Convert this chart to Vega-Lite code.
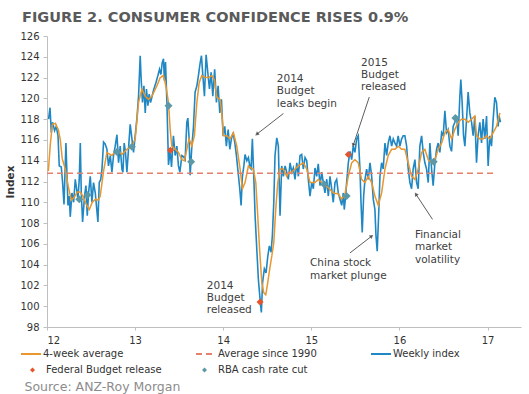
{
"$schema": "https://vega.github.io/schema/vega-lite/v6.json",
"width": 474, "height": 291,
"autosize": {"type": "none"},
"padding": {"left": 47, "top": 36, "right": 8, "bottom": 67},
"background": "white",
"title": {"text": "FIGURE 2. CONSUMER CONFIDENCE RISES 0.9%", "anchor": "start", "frame": "group", "dx": -25, "dy": 19, "offset": 14, "baseline": "alphabetic", "font": "DejaVu Sans", "fontSize": 14.5, "fontWeight": "bold", "color": "#5A5A5A"},
"config": {
 "view": {"stroke": null},
 "axis": {"domainColor": "#BFBFBF", "tickColor": "#BFBFBF", "labelFont": "DejaVu Sans", "labelFontSize": 10, "labelColor": "#333333", "grid": false, "titleFont": "DejaVu Sans"},
 "legend": {"labelFont": "DejaVu Sans", "labelFontSize": 10, "labelColor": "#333333"}
},
"datasets": {
"lines": [
{"series":"Weekly index","year":12.018,"index":118.0},{"series":"Weekly index","year":12.034,"index":119.1},{"series":"Weekly index","year":12.049,"index":116.7},{"series":"Weekly index","year":12.063,"index":117.7},{"series":"Weekly index","year":12.086,"index":116.9},{"series":"Weekly index","year":12.105,"index":117.3},{"series":"Weekly index","year":12.125,"index":116.4},{"series":"Weekly index","year":12.139,"index":113.5},{"series":"Weekly index","year":12.162,"index":113.4},{"series":"Weekly index","year":12.177,"index":111.9},{"series":"Weekly index","year":12.193,"index":109.8},{"series":"Weekly index","year":12.215,"index":115.7},{"series":"Weekly index","year":12.227,"index":112.5},{"series":"Weekly index","year":12.238,"index":109.7},{"series":"Weekly index","year":12.253,"index":110.6},{"series":"Weekly index","year":12.264,"index":108.6},{"series":"Weekly index","year":12.283,"index":110.9},{"series":"Weekly index","year":12.302,"index":110.0},{"series":"Weekly index","year":12.321,"index":112.2},{"series":"Weekly index","year":12.336,"index":111.3},{"series":"Weekly index","year":12.351,"index":110.3},{"series":"Weekly index","year":12.366,"index":112.2},{"series":"Weekly index","year":12.378,"index":115.7},{"series":"Weekly index","year":12.389,"index":110.9},{"series":"Weekly index","year":12.404,"index":108.1},{"series":"Weekly index","year":12.426,"index":110.6},{"series":"Weekly index","year":12.442,"index":111.6},{"series":"Weekly index","year":12.457,"index":108.7},{"series":"Weekly index","year":12.472,"index":110.9},{"series":"Weekly index","year":12.491,"index":112.5},{"series":"Weekly index","year":12.510,"index":110.0},{"series":"Weekly index","year":12.528,"index":111.9},{"series":"Weekly index","year":12.548,"index":110.9},{"series":"Weekly index","year":12.578,"index":108.1},{"series":"Weekly index","year":12.593,"index":111.9},{"series":"Weekly index","year":12.610,"index":112.2},{"series":"Weekly index","year":12.624,"index":113.2},{"series":"Weekly index","year":12.642,"index":115.8},{"series":"Weekly index","year":12.661,"index":115.6},{"series":"Weekly index","year":12.680,"index":115.1},{"series":"Weekly index","year":12.698,"index":113.5},{"series":"Weekly index","year":12.718,"index":114.5},{"series":"Weekly index","year":12.737,"index":112.9},{"series":"Weekly index","year":12.755,"index":114.5},{"series":"Weekly index","year":12.774,"index":115.4},{"series":"Weekly index","year":12.794,"index":116.5},{"series":"Weekly index","year":12.812,"index":113.8},{"series":"Weekly index","year":12.831,"index":115.4},{"series":"Weekly index","year":12.850,"index":113.2},{"series":"Weekly index","year":12.862,"index":112.9},{"series":"Weekly index","year":12.876,"index":115.7},{"series":"Weekly index","year":12.891,"index":114.8},{"series":"Weekly index","year":12.907,"index":112.9},{"series":"Weekly index","year":12.925,"index":115.1},{"series":"Weekly index","year":12.944,"index":117.5},{"series":"Weekly index","year":12.964,"index":116.1},{"series":"Weekly index","year":12.982,"index":114.8},{"series":"Weekly index","year":13.001,"index":116.4},{"series":"Weekly index","year":13.020,"index":118.0},{"series":"Weekly index","year":13.039,"index":120.2},{"series":"Weekly index","year":13.058,"index":124.1},{"series":"Weekly index","year":13.069,"index":121.8},{"series":"Weekly index","year":13.084,"index":119.6},{"series":"Weekly index","year":13.100,"index":121.2},{"series":"Weekly index","year":13.115,"index":118.6},{"series":"Weekly index","year":13.129,"index":120.9},{"series":"Weekly index","year":13.145,"index":119.3},{"series":"Weekly index","year":13.160,"index":120.4},{"series":"Weekly index","year":13.175,"index":119.6},{"series":"Weekly index","year":13.190,"index":120.1},{"series":"Weekly index","year":13.213,"index":120.9},{"series":"Weekly index","year":13.236,"index":121.5},{"series":"Weekly index","year":13.259,"index":122.2},{"series":"Weekly index","year":13.277,"index":122.8},{"series":"Weekly index","year":13.293,"index":122.3},{"series":"Weekly index","year":13.307,"index":123.4},{"series":"Weekly index","year":13.322,"index":123.8},{"series":"Weekly index","year":13.333,"index":121.7},{"series":"Weekly index","year":13.345,"index":123.5},{"series":"Weekly index","year":13.361,"index":119.6},{"series":"Weekly index","year":13.379,"index":113.6},{"series":"Weekly index","year":13.398,"index":115.0},{"series":"Weekly index","year":13.413,"index":113.4},{"series":"Weekly index","year":13.435,"index":116.4},{"series":"Weekly index","year":13.455,"index":114.5},{"series":"Weekly index","year":13.474,"index":115.4},{"series":"Weekly index","year":13.492,"index":113.5},{"series":"Weekly index","year":13.508,"index":112.9},{"series":"Weekly index","year":13.531,"index":114.5},{"series":"Weekly index","year":13.549,"index":114.4},{"series":"Weekly index","year":13.568,"index":114.1},{"series":"Weekly index","year":13.587,"index":117.7},{"series":"Weekly index","year":13.599,"index":118.1},{"series":"Weekly index","year":13.613,"index":116.1},{"series":"Weekly index","year":13.625,"index":112.6},{"series":"Weekly index","year":13.644,"index":115.4},{"series":"Weekly index","year":13.662,"index":117.2},{"series":"Weekly index","year":13.681,"index":120.6},{"series":"Weekly index","year":13.701,"index":121.2},{"series":"Weekly index","year":13.719,"index":122.2},{"series":"Weekly index","year":13.738,"index":123.4},{"series":"Weekly index","year":13.753,"index":124.1},{"series":"Weekly index","year":13.769,"index":122.2},{"series":"Weekly index","year":13.787,"index":120.2},{"series":"Weekly index","year":13.806,"index":124.2},{"series":"Weekly index","year":13.825,"index":122.5},{"series":"Weekly index","year":13.844,"index":120.9},{"series":"Weekly index","year":13.863,"index":122.5},{"series":"Weekly index","year":13.882,"index":120.2},{"series":"Weekly index","year":13.903,"index":122.8},{"series":"Weekly index","year":13.923,"index":119.6},{"series":"Weekly index","year":13.942,"index":121.2},{"series":"Weekly index","year":13.961,"index":118.6},{"series":"Weekly index","year":13.980,"index":119.9},{"series":"Weekly index","year":13.999,"index":116.4},{"series":"Weekly index","year":14.018,"index":117.3},{"series":"Weekly index","year":14.036,"index":115.4},{"series":"Weekly index","year":14.056,"index":117.0},{"series":"Weekly index","year":14.075,"index":115.1},{"series":"Weekly index","year":14.093,"index":116.1},{"series":"Weekly index","year":14.112,"index":116.7},{"series":"Weekly index","year":14.132,"index":115.7},{"series":"Weekly index","year":14.150,"index":114.5},{"series":"Weekly index","year":14.169,"index":112.9},{"series":"Weekly index","year":14.188,"index":111.3},{"series":"Weekly index","year":14.203,"index":109.7},{"series":"Weekly index","year":14.218,"index":112.5},{"series":"Weekly index","year":14.234,"index":113.5},{"series":"Weekly index","year":14.248,"index":114.6},{"series":"Weekly index","year":14.268,"index":114.0},{"series":"Weekly index","year":14.286,"index":114.3},{"series":"Weekly index","year":14.305,"index":113.3},{"series":"Weekly index","year":14.316,"index":113.2},{"series":"Weekly index","year":14.331,"index":116.1},{"series":"Weekly index","year":14.347,"index":112.5},{"series":"Weekly index","year":14.362,"index":108.7},{"series":"Weekly index","year":14.381,"index":105.5},{"series":"Weekly index","year":14.399,"index":102.6},{"series":"Weekly index","year":14.418,"index":100.7},{"series":"Weekly index","year":14.433,"index":99.4},{"series":"Weekly index","year":14.447,"index":102.3},{"series":"Weekly index","year":14.467,"index":103.6},{"series":"Weekly index","year":14.486,"index":103.2},{"series":"Weekly index","year":14.506,"index":104.8},{"series":"Weekly index","year":14.524,"index":105.8},{"series":"Weekly index","year":14.543,"index":105.2},{"series":"Weekly index","year":14.558,"index":106.8},{"series":"Weekly index","year":14.574,"index":110.0},{"series":"Weekly index","year":14.588,"index":114.5},{"series":"Weekly index","year":14.608,"index":116.2},{"series":"Weekly index","year":14.626,"index":115.4},{"series":"Weekly index","year":14.645,"index":108.7},{"series":"Weekly index","year":14.664,"index":113.5},{"series":"Weekly index","year":14.683,"index":112.5},{"series":"Weekly index","year":14.702,"index":113.5},{"series":"Weekly index","year":14.721,"index":112.9},{"series":"Weekly index","year":14.739,"index":112.2},{"series":"Weekly index","year":14.759,"index":113.8},{"series":"Weekly index","year":14.778,"index":112.9},{"series":"Weekly index","year":14.796,"index":113.3},{"series":"Weekly index","year":14.815,"index":112.2},{"series":"Weekly index","year":14.835,"index":113.8},{"series":"Weekly index","year":14.853,"index":112.5},{"series":"Weekly index","year":14.872,"index":114.5},{"series":"Weekly index","year":14.891,"index":114.6},{"series":"Weekly index","year":14.909,"index":113.2},{"series":"Weekly index","year":14.929,"index":114.3},{"series":"Weekly index","year":14.948,"index":114.0},{"series":"Weekly index","year":14.966,"index":112.2},{"series":"Weekly index","year":14.985,"index":110.6},{"series":"Weekly index","year":15.005,"index":111.9},{"series":"Weekly index","year":15.023,"index":111.3},{"series":"Weekly index","year":15.042,"index":113.3},{"series":"Weekly index","year":15.061,"index":112.5},{"series":"Weekly index","year":15.079,"index":113.7},{"series":"Weekly index","year":15.099,"index":111.6},{"series":"Weekly index","year":15.118,"index":112.9},{"series":"Weekly index","year":15.136,"index":111.9},{"series":"Weekly index","year":15.155,"index":110.9},{"series":"Weekly index","year":15.175,"index":112.2},{"series":"Weekly index","year":15.193,"index":110.6},{"series":"Weekly index","year":15.212,"index":112.5},{"series":"Weekly index","year":15.231,"index":111.3},{"series":"Weekly index","year":15.249,"index":110.0},{"series":"Weekly index","year":15.269,"index":111.9},{"series":"Weekly index","year":15.288,"index":112.2},{"series":"Weekly index","year":15.306,"index":110.9},{"series":"Weekly index","year":15.326,"index":110.3},{"series":"Weekly index","year":15.345,"index":109.7},{"series":"Weekly index","year":15.363,"index":110.9},{"series":"Weekly index","year":15.374,"index":109.3},{"series":"Weekly index","year":15.390,"index":110.6},{"series":"Weekly index","year":15.401,"index":111.9},{"series":"Weekly index","year":15.420,"index":113.8},{"series":"Weekly index","year":15.439,"index":114.9},{"series":"Weekly index","year":15.458,"index":114.1},{"series":"Weekly index","year":15.476,"index":115.4},{"series":"Weekly index","year":15.495,"index":114.8},{"series":"Weekly index","year":15.515,"index":116.1},{"series":"Weekly index","year":15.533,"index":116.4},{"series":"Weekly index","year":15.552,"index":113.2},{"series":"Weekly index","year":15.564,"index":110.0},{"series":"Weekly index","year":15.578,"index":107.1},{"series":"Weekly index","year":15.594,"index":110.6},{"series":"Weekly index","year":15.609,"index":112.2},{"series":"Weekly index","year":15.628,"index":113.2},{"series":"Weekly index","year":15.646,"index":112.2},{"series":"Weekly index","year":15.666,"index":113.8},{"series":"Weekly index","year":15.685,"index":112.5},{"series":"Weekly index","year":15.703,"index":110.3},{"series":"Weekly index","year":15.722,"index":109.3},{"series":"Weekly index","year":15.734,"index":106.8},{"series":"Weekly index","year":15.748,"index":105.3},{"series":"Weekly index","year":15.764,"index":108.7},{"series":"Weekly index","year":15.779,"index":112.5},{"series":"Weekly index","year":15.798,"index":113.8},{"series":"Weekly index","year":15.816,"index":113.2},{"series":"Weekly index","year":15.836,"index":115.7},{"series":"Weekly index","year":15.855,"index":114.5},{"series":"Weekly index","year":15.873,"index":115.7},{"series":"Weekly index","year":15.892,"index":116.4},{"series":"Weekly index","year":15.912,"index":115.4},{"series":"Weekly index","year":15.930,"index":116.1},{"series":"Weekly index","year":15.949,"index":115.7},{"series":"Weekly index","year":15.968,"index":115.4},{"series":"Weekly index","year":15.986,"index":116.4},{"series":"Weekly index","year":16.006,"index":115.4},{"series":"Weekly index","year":16.025,"index":116.1},{"series":"Weekly index","year":16.043,"index":116.4},{"series":"Weekly index","year":16.062,"index":116.4},{"series":"Weekly index","year":16.082,"index":115.4},{"series":"Weekly index","year":16.100,"index":113.2},{"series":"Weekly index","year":16.119,"index":111.9},{"series":"Weekly index","year":16.138,"index":111.3},{"series":"Weekly index","year":16.156,"index":113.2},{"series":"Weekly index","year":16.176,"index":114.1},{"series":"Weekly index","year":16.195,"index":111.9},{"series":"Weekly index","year":16.213,"index":111.3},{"series":"Weekly index","year":16.232,"index":115.4},{"series":"Weekly index","year":16.252,"index":116.4},{"series":"Weekly index","year":16.270,"index":114.8},{"series":"Weekly index","year":16.289,"index":113.8},{"series":"Weekly index","year":16.308,"index":113.2},{"series":"Weekly index","year":16.327,"index":111.9},{"series":"Weekly index","year":16.346,"index":115.7},{"series":"Weekly index","year":16.365,"index":113.2},{"series":"Weekly index","year":16.383,"index":111.6},{"series":"Weekly index","year":16.403,"index":113.8},{"series":"Weekly index","year":16.422,"index":115.1},{"series":"Weekly index","year":16.440,"index":115.7},{"series":"Weekly index","year":16.459,"index":114.8},{"series":"Weekly index","year":16.479,"index":116.7},{"series":"Weekly index","year":16.497,"index":116.4},{"series":"Weekly index","year":16.516,"index":118.8},{"series":"Weekly index","year":16.535,"index":116.7},{"series":"Weekly index","year":16.553,"index":117.0},{"series":"Weekly index","year":16.573,"index":115.4},{"series":"Weekly index","year":16.592,"index":114.9},{"series":"Weekly index","year":16.610,"index":117.3},{"series":"Weekly index","year":16.629,"index":117.7},{"series":"Weekly index","year":16.649,"index":118.3},{"series":"Weekly index","year":16.667,"index":116.4},{"series":"Weekly index","year":16.686,"index":120.2},{"series":"Weekly index","year":16.697,"index":121.8},{"series":"Weekly index","year":16.712,"index":119.6},{"series":"Weekly index","year":16.728,"index":116.4},{"series":"Weekly index","year":16.743,"index":115.4},{"series":"Weekly index","year":16.762,"index":118.0},{"series":"Weekly index","year":16.780,"index":120.6},{"series":"Weekly index","year":16.799,"index":118.6},{"series":"Weekly index","year":16.819,"index":117.7},{"series":"Weekly index","year":16.837,"index":116.4},{"series":"Weekly index","year":16.856,"index":118.3},{"series":"Weekly index","year":16.875,"index":113.8},{"series":"Weekly index","year":16.893,"index":116.4},{"series":"Weekly index","year":16.913,"index":117.7},{"series":"Weekly index","year":16.932,"index":115.7},{"series":"Weekly index","year":16.950,"index":118.0},{"series":"Weekly index","year":16.969,"index":116.1},{"series":"Weekly index","year":16.989,"index":118.3},{"series":"Weekly index","year":17.007,"index":113.5},{"series":"Weekly index","year":17.026,"index":116.4},{"series":"Weekly index","year":17.045,"index":115.4},{"series":"Weekly index","year":17.064,"index":118.0},{"series":"Weekly index","year":17.083,"index":120.1},{"series":"Weekly index","year":17.102,"index":119.6},{"series":"Weekly index","year":17.120,"index":117.3},{"series":"Weekly index","year":17.131,"index":118.3},{"series":"Weekly index","year":17.147,"index":117.7},
{"series":"4-week average","year":12.015,"index":113.0},{"series":"4-week average","year":12.037,"index":115.5},{"series":"4-week average","year":12.060,"index":117.5},{"series":"4-week average","year":12.094,"index":117.6},{"series":"4-week average","year":12.128,"index":117.0},{"series":"4-week average","year":12.151,"index":116.0},{"series":"4-week average","year":12.173,"index":114.2},{"series":"4-week average","year":12.207,"index":113.2},{"series":"4-week average","year":12.242,"index":111.5},{"series":"4-week average","year":12.276,"index":110.2},{"series":"4-week average","year":12.310,"index":110.5},{"series":"4-week average","year":12.344,"index":111.0},{"series":"4-week average","year":12.378,"index":111.0},{"series":"4-week average","year":12.412,"index":110.5},{"series":"4-week average","year":12.446,"index":109.8},{"series":"4-week average","year":12.480,"index":109.3},{"series":"4-week average","year":12.514,"index":110.0},{"series":"4-week average","year":12.548,"index":110.3},{"series":"4-week average","year":12.582,"index":110.2},{"series":"4-week average","year":12.604,"index":110.6},{"series":"4-week average","year":12.642,"index":113.0},{"series":"4-week average","year":12.680,"index":114.8},{"series":"4-week average","year":12.737,"index":114.5},{"series":"4-week average","year":12.794,"index":115.1},{"series":"4-week average","year":12.850,"index":114.6},{"series":"4-week average","year":12.907,"index":115.1},{"series":"4-week average","year":12.964,"index":115.4},{"series":"4-week average","year":13.001,"index":116.1},{"series":"4-week average","year":13.039,"index":119.6},{"series":"4-week average","year":13.077,"index":120.9},{"series":"4-week average","year":13.115,"index":120.2},{"series":"4-week average","year":13.152,"index":119.9},{"series":"4-week average","year":13.190,"index":120.2},{"series":"4-week average","year":13.247,"index":121.2},{"series":"4-week average","year":13.285,"index":122.0},{"series":"4-week average","year":13.322,"index":122.2},{"series":"4-week average","year":13.349,"index":121.2},{"series":"4-week average","year":13.379,"index":119.6},{"series":"4-week average","year":13.398,"index":117.0},{"series":"4-week average","year":13.417,"index":115.4},{"series":"4-week average","year":13.455,"index":115.1},{"series":"4-week average","year":13.492,"index":114.8},{"series":"4-week average","year":13.531,"index":114.1},{"series":"4-week average","year":13.560,"index":114.0},{"series":"4-week average","year":13.587,"index":115.1},{"series":"4-week average","year":13.613,"index":116.1},{"series":"4-week average","year":13.644,"index":115.4},{"series":"4-week average","year":13.673,"index":116.4},{"series":"4-week average","year":13.701,"index":119.6},{"series":"4-week average","year":13.727,"index":121.5},{"series":"4-week average","year":13.757,"index":122.2},{"series":"4-week average","year":13.795,"index":122.0},{"series":"4-week average","year":13.832,"index":122.0},{"series":"4-week average","year":13.871,"index":122.2},{"series":"4-week average","year":13.900,"index":121.8},{"series":"4-week average","year":13.927,"index":120.1},{"series":"4-week average","year":13.965,"index":119.9},{"series":"4-week average","year":13.984,"index":118.6},{"series":"4-week average","year":14.002,"index":116.4},{"series":"4-week average","year":14.041,"index":116.4},{"series":"4-week average","year":14.078,"index":116.1},{"series":"4-week average","year":14.116,"index":116.7},{"series":"4-week average","year":14.154,"index":115.4},{"series":"4-week average","year":14.192,"index":113.2},{"series":"4-week average","year":14.218,"index":111.3},{"series":"4-week average","year":14.248,"index":111.9},{"series":"4-week average","year":14.286,"index":113.5},{"series":"4-week average","year":14.316,"index":113.3},{"series":"4-week average","year":14.342,"index":113.2},{"series":"4-week average","year":14.370,"index":111.9},{"series":"4-week average","year":14.392,"index":108.7},{"series":"4-week average","year":14.415,"index":105.2},{"series":"4-week average","year":14.438,"index":102.3},{"series":"4-week average","year":14.460,"index":101.3},{"series":"4-week average","year":14.483,"index":101.1},{"series":"4-week average","year":14.506,"index":102.3},{"series":"4-week average","year":14.528,"index":103.6},{"series":"4-week average","year":14.551,"index":104.8},{"series":"4-week average","year":14.574,"index":106.1},{"series":"4-week average","year":14.596,"index":109.3},{"series":"4-week average","year":14.619,"index":111.9},{"series":"4-week average","year":14.645,"index":113.2},{"series":"4-week average","year":14.683,"index":113.2},{"series":"4-week average","year":14.721,"index":112.5},{"series":"4-week average","year":14.747,"index":112.9},{"series":"4-week average","year":14.778,"index":112.9},{"series":"4-week average","year":14.853,"index":113.5},{"series":"4-week average","year":14.909,"index":113.8},{"series":"4-week average","year":14.948,"index":113.2},{"series":"4-week average","year":14.985,"index":111.9},{"series":"4-week average","year":15.042,"index":111.9},{"series":"4-week average","year":15.079,"index":112.2},{"series":"4-week average","year":15.118,"index":111.9},{"series":"4-week average","year":15.155,"index":111.7},{"series":"4-week average","year":15.193,"index":111.4},{"series":"4-week average","year":15.249,"index":110.9},{"series":"4-week average","year":15.306,"index":110.8},{"series":"4-week average","year":15.345,"index":110.3},{"series":"4-week average","year":15.382,"index":110.8},{"series":"4-week average","year":15.420,"index":112.5},{"series":"4-week average","year":15.458,"index":113.8},{"series":"4-week average","year":15.495,"index":114.1},{"series":"4-week average","year":15.533,"index":113.8},{"series":"4-week average","year":15.571,"index":112.2},{"series":"4-week average","year":15.609,"index":111.9},{"series":"4-week average","year":15.646,"index":112.5},{"series":"4-week average","year":15.685,"index":111.9},{"series":"4-week average","year":15.722,"index":110.6},{"series":"4-week average","year":15.760,"index":109.7},{"series":"4-week average","year":15.798,"index":110.9},{"series":"4-week average","year":15.836,"index":113.2},{"series":"4-week average","year":15.873,"index":114.5},{"series":"4-week average","year":15.912,"index":115.1},{"series":"4-week average","year":15.949,"index":115.1},{"series":"4-week average","year":15.986,"index":115.4},{"series":"4-week average","year":16.025,"index":115.1},{"series":"4-week average","year":16.062,"index":115.1},{"series":"4-week average","year":16.100,"index":113.8},{"series":"4-week average","year":16.138,"index":112.5},{"series":"4-week average","year":16.176,"index":112.2},{"series":"4-week average","year":16.213,"index":113.2},{"series":"4-week average","year":16.252,"index":114.8},{"series":"4-week average","year":16.289,"index":115.1},{"series":"4-week average","year":16.327,"index":114.1},{"series":"4-week average","year":16.365,"index":113.8},{"series":"4-week average","year":16.403,"index":114.1},{"series":"4-week average","year":16.440,"index":115.1},{"series":"4-week average","year":16.479,"index":115.7},{"series":"4-week average","year":16.516,"index":116.7},{"series":"4-week average","year":16.553,"index":117.0},{"series":"4-week average","year":16.592,"index":116.1},{"series":"4-week average","year":16.629,"index":117.0},{"series":"4-week average","year":16.667,"index":117.7},{"series":"4-week average","year":16.705,"index":118.0},{"series":"4-week average","year":16.743,"index":118.0},{"series":"4-week average","year":16.780,"index":117.7},{"series":"4-week average","year":16.819,"index":118.0},{"series":"4-week average","year":16.856,"index":118.3},{"series":"4-week average","year":16.875,"index":116.4},{"series":"4-week average","year":16.913,"index":116.1},{"series":"4-week average","year":16.950,"index":116.1},{"series":"4-week average","year":16.989,"index":116.4},{"series":"4-week average","year":17.026,"index":116.1},{"series":"4-week average","year":17.064,"index":116.7},{"series":"4-week average","year":17.102,"index":117.3},{"series":"4-week average","year":17.140,"index":118.6},
{"series":"Average since 1990","year":12.0,"index":112.8},{"series":"Average since 1990","year":17.09,"index":112.8}
],
"events": [
{"event":"Federal Budget release","year":13.401,"index":115.0},{"event":"Federal Budget release","year":14.418,"index":100.4},{"event":"Federal Budget release","year":15.420,"index":114.6},{"event":"Federal Budget release","year":16.389,"index":113.9},
{"event":"RBA cash rate cut","year":12.366,"index":110.3},{"event":"RBA cash rate cut","year":12.460,"index":110.7},{"event":"RBA cash rate cut","year":12.794,"index":114.85},{"event":"RBA cash rate cut","year":12.964,"index":115.35},{"event":"RBA cash rate cut","year":13.379,"index":119.3},{"event":"RBA cash rate cut","year":13.636,"index":113.9},{"event":"RBA cash rate cut","year":15.147,"index":111.7},{"event":"RBA cash rate cut","year":15.401,"index":110.6},{"event":"RBA cash rate cut","year":16.389,"index":113.9},{"event":"RBA cash rate cut","year":16.635,"index":118.1}
],
"notes": [
{"note":["2014","Budget","leaks begin"],"year":14.608,"index":122.34},
{"note":["2015","Budget","released"],"year":15.565,"index":123.93},
{"note":["2014","Budget","released"],"year":13.814,"index":102.46},
{"note":["China stock","market plunge"],"year":14.985,"index":104.61},
{"note":["Financial","market","volatility"],"year":16.176,"index":107.34}
],
"arrows": [
{"id":1,"year":14.683,"index":118.54,"year2":14.381,"index2":116.55},
{"id":2,"year":15.658,"index":120.13,"year2":15.476,"index2":115.49},
{"id":3,"year":15.439,"index":105.13,"year2":15.685,"index2":106.74},
{"id":4,"year":16.376,"index":108.35,"year2":16.187,"index2":110.78}
]
},
"encoding": {
 "x": {"field": "year", "type": "quantitative", "scale": {"domain": [12, 17.38], "nice": false, "zero": false},
  "axis": {"title": "Source: ANZ-Roy Morgan", "values": [12,13,14,15,16,17], "format": "d", "tickSize": 3, "labelPadding": 5, "titleX": -23, "titleY": 63, "titleAlign": "left", "titleAnchor": null, "titleBaseline": "alphabetic", "titleFontSize": 12.5, "titleFontWeight": "normal", "titleColor": "#8C8C8C"}},
 "y": {"field": "index", "type": "quantitative", "scale": {"domain": [98, 126], "nice": false, "zero": false},
  "axis": {"title": "Index", "values": [98,100,102,104,106,108,110,112,114,116,118,120,122,124,126], "tickSize": 4, "labelPadding": 4, "titleX": -37, "titleY": 145.5, "titleAngle": 270, "titleAlign": "center", "titleBaseline": "middle", "titleFontSize": 10.5, "titleFontWeight": "bold", "titleColor": "#333333"}}
},
"layer": [
 {"data": {"name": "lines"}, "transform": [{"filter": "datum.series === 'Weekly index'"}],
  "mark": {"type": "line", "strokeWidth": 1.6},
  "encoding": {
   "color": {"field": "series", "type": "nominal", "scale": {"domain": ["4-week average","Average since 1990","Weekly index"], "range": ["#E8962E","#E4806B","#1F87C3"]},
     "legend": {"title": null, "orient": "none", "legendX": -27, "legendY": 307, "columns": 3, "gridAlign": "all", "columnPadding": 50, "symbolType": "stroke", "symbolSize": 400, "symbolStrokeWidth": 2, "labelOffset": 1}},
   "strokeDash": {"field": "series", "type": "nominal", "scale": {"domain": ["4-week average","Average since 1990","Weekly index"], "range": [[1,0],[6,4],[1,0]]},
     "legend": {"title": null, "orient": "none", "legendX": -27, "legendY": 307, "columns": 3, "gridAlign": "all", "columnPadding": 50, "symbolType": "stroke", "symbolSize": 400, "symbolStrokeWidth": 2, "labelOffset": 1}}
  }},
 {"data": {"name": "lines"}, "transform": [{"filter": "datum.series === '4-week average'"}],
  "mark": {"type": "line", "strokeWidth": 1.5},
  "encoding": {"color": {"field": "series", "type": "nominal"}, "strokeDash": {"field": "series", "type": "nominal"}}},
 {"data": {"name": "lines"}, "transform": [{"filter": "datum.series === 'Average since 1990'"}],
  "mark": {"type": "line", "strokeWidth": 1.5},
  "encoding": {"color": {"field": "series", "type": "nominal"}, "strokeDash": {"field": "series", "type": "nominal"}}},
 {"data": {"name": "events"}, "transform": [{"filter": "datum.event === 'Federal Budget release'"}],
  "mark": {"type": "point", "shape": "diamond", "filled": true, "size": 49, "opacity": 1},
  "encoding": {"fill": {"field": "event", "type": "nominal", "scale": {"domain": ["Federal Budget release","RBA cash rate cut"], "range": ["#E5542A","#5D98A6"]},
    "legend": {"title": null, "orient": "none", "legendX": -19.5, "legendY": 329, "columns": 2, "gridAlign": "all", "columnPadding": 37, "symbolType": "diamond", "symbolSize": 25, "labelOffset": 8.5}}}},
 {"data": {"name": "events"}, "transform": [{"filter": "datum.event === 'RBA cash rate cut'"}],
  "mark": {"type": "point", "shape": "diamond", "filled": true, "size": 64, "opacity": 1},
  "encoding": {"fill": {"field": "event", "type": "nominal"}}},
 {"data": {"name": "arrows"},
  "mark": {"type": "rule", "color": "#333333", "strokeWidth": 0.8},
  "encoding": {"x2": {"field": "year2"}, "y2": {"field": "index2"}}},
 {"data": {"name": "arrows"}, "transform": [{"filter": "datum.id === 1"}],
  "mark": {"type": "point", "shape": "triangle-up", "filled": true, "size": 20, "color": "#333333", "angle": 232},
  "encoding": {"x": {"field": "year2", "type": "quantitative"}, "y": {"field": "index2", "type": "quantitative"}}},
 {"data": {"name": "arrows"}, "transform": [{"filter": "datum.id === 2"}],
  "mark": {"type": "point", "shape": "triangle-up", "filled": true, "size": 20, "color": "#333333", "angle": 198},
  "encoding": {"x": {"field": "year2", "type": "quantitative"}, "y": {"field": "index2", "type": "quantitative"}}},
 {"data": {"name": "arrows"}, "transform": [{"filter": "datum.id === 3"}],
  "mark": {"type": "point", "shape": "triangle-up", "filled": true, "size": 20, "color": "#333333", "angle": 52},
  "encoding": {"x": {"field": "year2", "type": "quantitative"}, "y": {"field": "index2", "type": "quantitative"}}},
 {"data": {"name": "arrows"}, "transform": [{"filter": "datum.id === 4"}],
  "mark": {"type": "point", "shape": "triangle-up", "filled": true, "size": 20, "color": "#333333", "angle": 327},
  "encoding": {"x": {"field": "year2", "type": "quantitative"}, "y": {"field": "index2", "type": "quantitative"}}},
 {"data": {"name": "notes"},
  "mark": {"type": "text", "align": "left", "baseline": "top", "font": "DejaVu Sans", "fontSize": 10.5, "lineHeight": 12.3, "color": "#404040"},
  "encoding": {"text": {"field": "note"}}}
]
}
